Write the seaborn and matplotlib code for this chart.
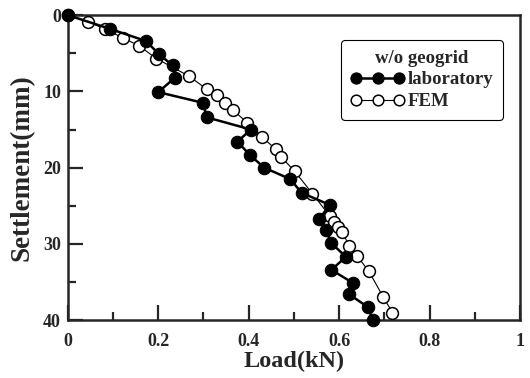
import pandas as pd
import matplotlib.pyplot as plt
import seaborn as sns
from matplotlib.ticker import MultipleLocator

# load-settlement readings, w/o geogrid
lab_load = [0, 0.093, 0.173, 0.202, 0.232, 0.237, 0.200, 0.299, 0.307, 0.405,
            0.375, 0.404, 0.434, 0.492, 0.517, 0.580, 0.556, 0.571, 0.583, 0.615,
            0.583, 0.630, 0.622, 0.664, 0.675]
lab_settle = [0, 1.8, 3.4, 5.15, 6.6, 8.2, 10.1, 11.5, 13.4, 15.0,
              16.6, 18.4, 20.0, 21.5, 23.3, 24.9, 26.7, 28.2, 29.9, 31.7,
              33.4, 35.1, 36.6, 38.3, 40.0]

fem_load = [0, 0.045, 0.082, 0.122, 0.157, 0.196, 0.268, 0.307, 0.329, 0.347,
            0.366, 0.397, 0.430, 0.460, 0.472, 0.502, 0.541, 0.580, 0.588, 0.597,
            0.607, 0.623, 0.640, 0.666, 0.697, 0.718]
fem_settle = [0, 0.9, 1.8, 3.0, 4.0, 5.7, 8.0, 9.7, 10.5, 11.5,
              12.5, 14.1, 16.0, 17.6, 18.6, 20.5, 23.4, 26.4, 27.1, 27.8,
              28.5, 30.3, 31.6, 33.6, 36.9, 39.0]

lab = pd.DataFrame({'load': lab_load, 'settle': lab_settle})
fem = pd.DataFrame({'load': fem_load, 'settle': fem_settle})

sns.set_style('ticks')
plt.rcParams['font.family'] = ['Liberation Serif', 'DejaVu Serif']
plt.rcParams['font.weight'] = 'bold'

fig = plt.figure(figsize=(5.3, 3.78), dpi=100)
ax = fig.add_axes([0.128, 0.153, 0.853, 0.807])

sns.lineplot(data=fem, x='load', y='settle', sort=False, estimator=None,
             color='black', lw=0.8, marker='o', markersize=8.5,
             markerfacecolor='white', markeredgecolor='black',
             markeredgewidth=1.1, label='FEM', ax=ax, clip_on=False, zorder=3)
sns.lineplot(data=lab, x='load', y='settle', sort=False, estimator=None,
             color='black', lw=1.8, marker='o', markersize=9,
             markerfacecolor='black', markeredgecolor='black',
             label='laboratory', ax=ax, clip_on=False, zorder=4)

ax.set_xlim(0, 1)
ax.set_ylim(40, 0)
ax.xaxis.set_major_locator(MultipleLocator(0.2))
ax.xaxis.set_minor_locator(MultipleLocator(0.1))
ax.yaxis.set_major_locator(MultipleLocator(10))
ax.yaxis.set_minor_locator(MultipleLocator(5))
ax.set_xticks([0, 0.2, 0.4, 0.6, 0.8, 1.0])
ax.set_xticklabels(['0', '0.2', '0.4', '0.6', '0.8', '1'])
ax.tick_params(which='major', direction='in', length=11, width=1.6,
               labelsize=13, pad=5)
ax.tick_params(axis='x', which='major', pad=9)
ax.tick_params(which='minor', direction='in', length=6, width=1.6)
for s in ax.spines.values():
    s.set_linewidth(1.8)

ax.set_xlabel('Load(kN)', fontsize=17.5, fontweight='bold', labelpad=1)
ax.set_ylabel('Settlement(mm)', fontsize=19.5, fontweight='bold', labelpad=6)

h, l = ax.get_legend_handles_labels()
leg = ax.legend(h[::-1], l[::-1], title='w/o geogrid', numpoints=3,
                loc='upper right', bbox_to_anchor=(0.962, 0.918),
                borderaxespad=0, fontsize=13.5,
                title_fontproperties={'weight': 'bold', 'size': 13.5},
                frameon=True, fancybox=True, edgecolor='black',
                handlelength=2.9, handletextpad=0.15, borderpad=0.5,
                labelspacing=0.25, markerscale=0.9)
leg.get_frame().set_linewidth(0.8)
leg.get_frame().set_alpha(1)

fig.savefig('out.png', dpi=100)
